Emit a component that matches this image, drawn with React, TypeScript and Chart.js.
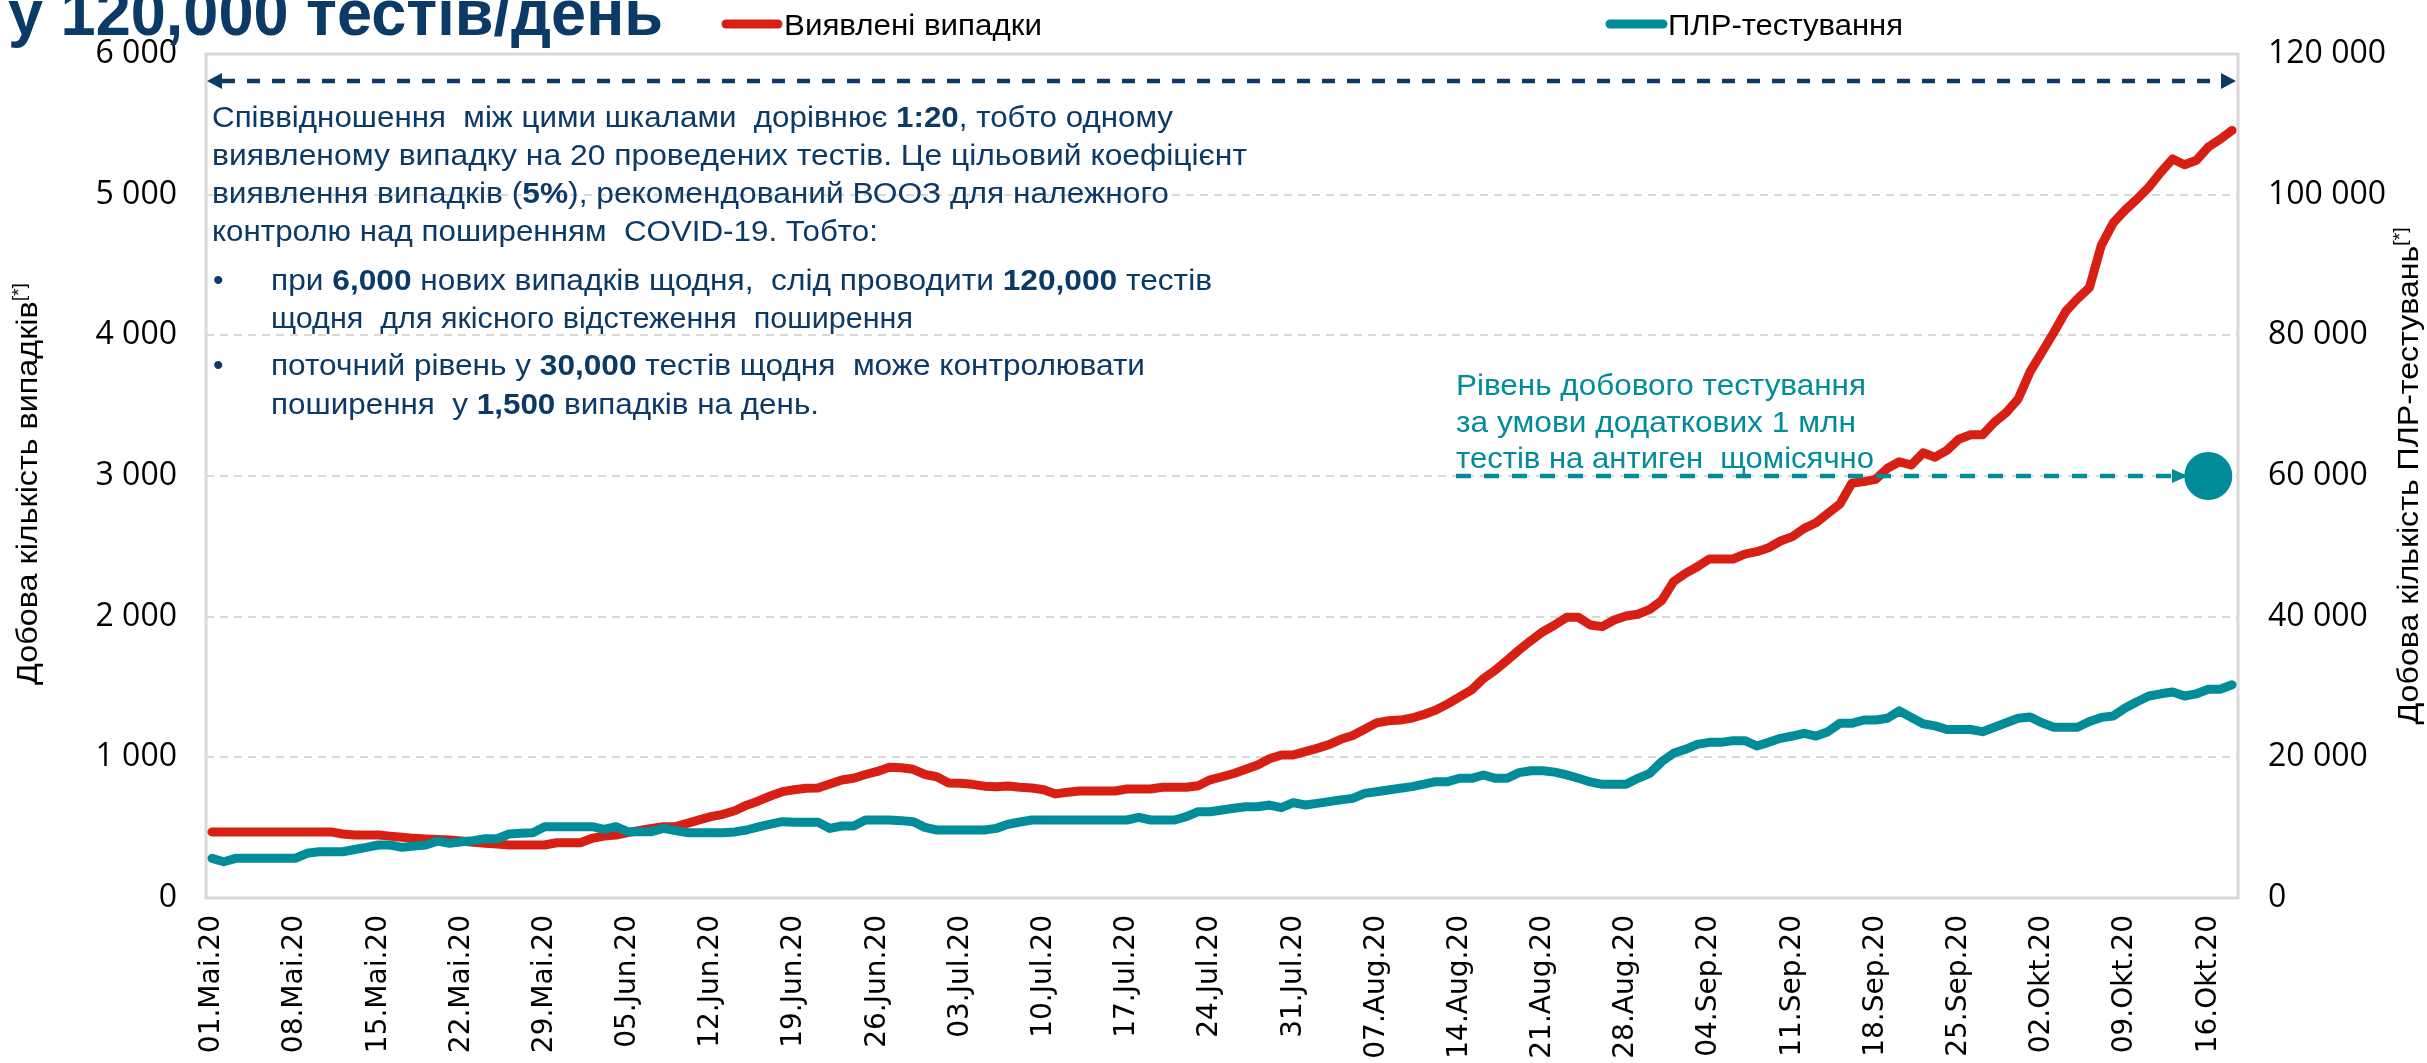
import React, { useEffect, useRef } from 'react';
import { Chart, registerables } from 'chart.js';

Chart.register(...registerables);

// ---------- data ----------
const MONTHS = ['Mai', 'Jun', 'Jul', 'Aug', 'Sep', 'Okt'];
const DAYS_SHOWN = [31, 30, 31, 31, 30, 18];
const LABEL_EVERY = 7;

// Виявлені випадки (left axis)
const CASES_MAY = [470, 470, 470, 470, 470, 470, 470, 470, 470, 470, 470, 455, 448, 448, 448, 440, 432, 424, 420, 416, 412, 405, 397, 389, 383, 377, 377, 377, 377, 393, 393];
const CASES_JUN = [393, 425, 440, 448, 465, 480, 495, 507, 507, 530, 555, 578, 595, 620, 660, 690, 725, 756, 770, 780, 782, 810, 839, 851, 878, 900, 929, 926, 915, 878];
const CASES_JUL = [862, 818, 815, 808, 795, 791, 796, 787, 782, 770, 740, 752, 761, 761, 761, 761, 775, 775, 775, 787, 787, 787, 798, 840, 862, 885, 915, 945, 990, 1017, 1017];
const CASES_AUG = [1040, 1064, 1090, 1128, 1155, 1200, 1245, 1260, 1265, 1280, 1305, 1336, 1380, 1430, 1479, 1560, 1620, 1690, 1763, 1830, 1893, 1941, 1995, 1995, 1941, 1929, 1976, 2005, 2017, 2052, 2114];
const CASES_SEP = [2249, 2308, 2355, 2410, 2410, 2410, 2445, 2462, 2490, 2538, 2569, 2628, 2668, 2735, 2801, 2948, 2960, 2976, 3055, 3101, 3078, 3165, 3134, 3182, 3261, 3293, 3293, 3382, 3451, 3547];
const CASES_OKT = [3740, 3880, 4020, 4170, 4260, 4340, 4640, 4800, 4890, 4968, 5054, 5159, 5254, 5213, 5244, 5339, 5394, 5457];

// ПЛР-тестування (right axis)
const TESTS_MAY = [5640, 5160, 5640, 5640, 5640, 5640, 5640, 5640, 6360, 6580, 6580, 6580, 6900, 7200, 7540, 7540, 7200, 7400, 7540, 8100, 7770, 8000, 8150, 8430, 8430, 9100, 9200, 9290, 10140, 10140, 10140];
const TESTS_JUN = [10140, 10140, 9770, 10140, 9430, 9430, 9430, 9900, 9600, 9290, 9290, 9290, 9290, 9400, 9670, 10100, 10500, 10850, 10760, 10760, 10760, 9900, 10240, 10240, 11090, 11090, 11090, 11000, 10850, 10050];
const TESTS_JUL = [9670, 9670, 9670, 9670, 9670, 9900, 10480, 10800, 11090, 11090, 11090, 11090, 11090, 11090, 11090, 11090, 11090, 11470, 11090, 11090, 11090, 11560, 12270, 12270, 12500, 12750, 12980, 12980, 13220, 12840, 13550];
const TESTS_AUG = [13220, 13450, 13700, 13950, 14170, 14880, 15100, 15350, 15600, 15830, 16200, 16540, 16540, 17020, 17020, 17490, 17020, 17020, 17820, 18100, 18100, 17900, 17500, 17020, 16500, 16160, 16160, 16160, 17020, 17730, 19380];
const TESTS_SEP = [20570, 21140, 21850, 22130, 22130, 22370, 22370, 21610, 22130, 22700, 23030, 23410, 23030, 23650, 24840, 24840, 25310, 25310, 25550, 26600, 25680, 24780, 24470, 23960, 23960, 23960, 23650, 24280, 24910, 25550];
const TESTS_OKT = [25740, 24910, 24280, 24280, 24280, 25100, 25680, 25870, 27010, 27900, 28720, 29030, 29290, 28720, 29030, 29670, 29670, 30310];

const CASES = [...CASES_MAY, ...CASES_JUN, ...CASES_JUL, ...CASES_AUG, ...CASES_SEP, ...CASES_OKT];
const TESTS = [...TESTS_MAY, ...TESTS_JUN, ...TESTS_JUL, ...TESTS_AUG, ...TESTS_SEP, ...TESTS_OKT];

const TARGET_TESTS = 60000;
const TARGET_LABEL = '16.Okt.20';

const LEFT_MAX = 6000;
const LEFT_STEP = 1000;
const RIGHT_MAX = 120000;
const RIGHT_STEP = 20000;

const DATES: string[] = [];
MONTHS.forEach((m, mi) => {
  for (let d = 1; d <= DAYS_SHOWN[mi]; d++) DATES.push(`${String(d).padStart(2, '0')}.${m}.20`);
});

const TARGET_DATA = DATES.map((l) => (l === TARGET_LABEL ? TARGET_TESTS : null));

// ---------- texts ----------
const TITLE_TAIL = 'у 120,000 тестів/день';
const LEGEND_CASES = 'Виявлені випадки';
const LEGEND_TESTS = 'ПЛР-тестування';
const Y_TITLE = 'Добова кількість випадків';
const Y1_TITLE = 'Добова кількість ПЛР-тестувань';
const TEAL_NOTE = ['Рівень добового тестування', 'за умови додаткових 1 млн', 'тестів на антиген  щомісячно'];

type Run = [string, boolean];
const BOX_LINES: { runs: Run[]; bullet: boolean; indent: boolean; right: number; base: number }[] = [
  { runs: [['Співвідношення  між цими шкалами  дорівнює ', false], ['1:20', true], [', тобто одному', false]], bullet: false, indent: false, right: 1173, base: 127 },
  { runs: [['виявленому випадку на 20 проведених тестів. Це цільовий коефіцієнт', false]], bullet: false, indent: false, right: 1247, base: 165 },
  { runs: [['виявлення випадків (', false], ['5%', true], ['), рекомендований ВООЗ для належного', false]], bullet: false, indent: false, right: 1169, base: 203 },
  { runs: [['контролю над поширенням  COVID-19. Тобто:', false]], bullet: false, indent: false, right: 878, base: 241 },
  { runs: [['при ', false], ['6,000', true], [' нових випадків щодня,  слід проводити ', false], ['120,000', true], [' тестів', false]], bullet: true, indent: true, right: 1212, base: 290 },
  { runs: [['щодня  для якісного відстеження  поширення', false]], bullet: false, indent: true, right: 913, base: 328 },
  { runs: [['поточний рівень у ', false], ['30,000', true], [' тестів щодня  може контролювати', false]], bullet: true, indent: true, right: 1145, base: 375 },
  { runs: [['поширення  у ', false], ['1,500', true], [' випадків на день.', false]], bullet: false, indent: true, right: 819, base: 414 },
];

// ---------- style ----------
const RED = '#D71F14';
const TEAL = '#008C99';
const NAVY = '#0B3A66';
const GRID = '#D9D9D9';
const SANS = '"Liberation Sans", Arial, sans-serif';
const TICK_FONT = '"Open Sans", "DejaVu Sans", sans-serif';
const XTICK_FONT = '"DejaVu Sans", sans-serif';

const fmt = (v: number) => String(v).replace(/\B(?=(\d{3})+(?!\d))/g, ' ');

function drawRuns(ctx: CanvasRenderingContext2D, runs: Run[], x: number, y: number, size: number, color: string, right?: number) {
  const fonts = runs.map(([, b]) => `${b ? 'bold ' : ''}${size}px ${SANS}`);
  let w = 0;
  const ws = runs.map(([t], i) => {
    ctx.font = fonts[i];
    const m = ctx.measureText(t).width;
    w += m;
    return m;
  });
  let sx = 1;
  if (right) sx = Math.min(1.15, Math.max(0.85, (right - x) / w));
  ctx.save();
  ctx.translate(x, y);
  ctx.scale(sx, 1);
  ctx.fillStyle = color;
  ctx.textBaseline = 'alphabetic';
  ctx.textAlign = 'left';
  let cx = 0;
  runs.forEach(([t], i) => {
    ctx.font = fonts[i];
    ctx.fillText(t, cx, 0);
    cx += ws[i];
  });
  ctx.restore();
}

function dashedArrow(ctx: CanvasRenderingContext2D, x0: number, x1: number, y: number, color: string, lw: number, dash: number[], left: boolean, right: boolean, hl: number, hw: number) {
  ctx.save();
  ctx.strokeStyle = color;
  ctx.fillStyle = color;
  ctx.lineWidth = lw;
  ctx.setLineDash(dash);
  ctx.beginPath();
  ctx.moveTo(left ? x0 + hl : x0, y);
  ctx.lineTo(right ? x1 - hl : x1, y);
  ctx.stroke();
  ctx.setLineDash([]);
  if (left) {
    ctx.beginPath();
    ctx.moveTo(x0, y);
    ctx.lineTo(x0 + hl, y - hw);
    ctx.lineTo(x0 + hl, y + hw);
    ctx.closePath();
    ctx.fill();
  }
  if (right) {
    ctx.beginPath();
    ctx.moveTo(x1, y);
    ctx.lineTo(x1 - hl, y - hw);
    ctx.lineTo(x1 - hl, y + hw);
    ctx.closePath();
    ctx.fill();
  }
  ctx.restore();
}

function drawVTitle(ctx: CanvasRenderingContext2D, text: string, x: number, cy: number, size: number, length: number) {
  const main = `${size}px ${SANS}`;
  const supF = `${Math.round(size * 0.6)}px ${SANS}`;
  ctx.save();
  ctx.font = main;
  const w1 = ctx.measureText(text).width;
  ctx.font = supF;
  const w2 = ctx.measureText('[*]').width;
  const sx = Math.min(1.15, Math.max(0.85, length / (w1 + w2)));
  ctx.translate(x, cy);
  ctx.rotate(-Math.PI / 2);
  ctx.scale(sx, 1);
  const start = -(w1 + w2) / 2;
  ctx.fillStyle = '#000';
  ctx.textBaseline = 'alphabetic';
  ctx.textAlign = 'left';
  ctx.font = main;
  ctx.fillText(text, start, 0);
  ctx.font = supF;
  ctx.fillText('[*]', start + w1, -size * 0.4);
  ctx.restore();
}

const decorPlugin = {
  id: 'decor',
  beforeDatasetsDraw(chart: any) {
    const { ctx, chartArea: a } = chart;
    ctx.save();
    ctx.strokeStyle = GRID;
    ctx.lineWidth = 3;
    ctx.strokeRect(a.left, a.top, a.right - a.left, a.bottom - a.top);
    ctx.restore();
  },
  afterDraw(chart: any) {
    const { ctx, chartArea: a } = chart;
    const y1 = chart.scales.y1;

    // title (bottom line, cut by the top edge)
    drawRuns(ctx, [[TITLE_TAIL, true]], 8, 35, 64, NAVY, 663);

    // legend
    ctx.save();
    ctx.lineCap = 'round';
    ctx.lineWidth = 9;
    ctx.strokeStyle = RED;
    ctx.beginPath();
    ctx.moveTo(726, 24);
    ctx.lineTo(778, 24);
    ctx.stroke();
    ctx.strokeStyle = TEAL;
    ctx.beginPath();
    ctx.moveTo(1610, 24);
    ctx.lineTo(1663, 24);
    ctx.stroke();
    ctx.restore();
    drawRuns(ctx, [[LEGEND_CASES, false]], 784, 35, 29, '#000', 1042);
    drawRuns(ctx, [[LEGEND_TESTS, false]], 1668, 35, 29, '#000', 1903);

    // axis titles
    const cy = (a.top + a.bottom) / 2;
    drawVTitle(ctx, Y_TITLE, 37, cy + 8, 30, 402);
    drawVTitle(ctx, Y1_TITLE, 2418, cy, 30, 497);

    // navy double arrow
    dashedArrow(ctx, a.left + 1, a.right - 2, 81, NAVY, 4.5, [13, 12], true, true, 15, 8);

    // text box
    BOX_LINES.forEach((ln) => {
      const x = ln.indent ? 271 : 212;
      if (ln.bullet) {
        ctx.save();
        ctx.fillStyle = NAVY;
        ctx.font = `30px ${SANS}`;
        ctx.textBaseline = 'alphabetic';
        ctx.fillText('•', 213, ln.base);
        ctx.restore();
      }
      drawRuns(ctx, ln.runs, x, ln.base, 30, NAVY, ln.right);
    });

    // teal note + arrow to target level
    const ty = y1.getPixelForValue(TARGET_TESTS);
    drawRuns(ctx, [[TEAL_NOTE[0], false]], 1456, 395, 30, TEAL, 1866);
    drawRuns(ctx, [[TEAL_NOTE[1], false]], 1456, 432, 30, TEAL, 1856);
    drawRuns(ctx, [[TEAL_NOTE[2], false]], 1456, 468, 30, TEAL, 1874);
    dashedArrow(ctx, 1456, 2188, ty, TEAL, 4.5, [15, 13], false, true, 16, 7);
  },
};

export default function App() {
  const ref = useRef<HTMLCanvasElement>(null);
  useEffect(() => {
    document.body.style.margin = '0';
    document.body.style.overflow = 'hidden';
    const chart = new Chart(ref.current as HTMLCanvasElement, {
      type: 'line',
      data: {
        labels: DATES,
        datasets: [
          {
            label: LEGEND_CASES,
            data: CASES,
            yAxisID: 'y',
            borderColor: RED,
            backgroundColor: RED,
            borderWidth: 9,
            pointRadius: 0,
            borderCapStyle: 'round',
            borderJoinStyle: 'round',
            tension: 0,
            order: 2,
          },
          {
            label: LEGEND_TESTS,
            data: TESTS,
            yAxisID: 'y1',
            borderColor: TEAL,
            backgroundColor: TEAL,
            borderWidth: 9,
            pointRadius: 0,
            borderCapStyle: 'round',
            borderJoinStyle: 'round',
            tension: 0,
            order: 1,
          },
          {
            label: 'target',
            data: TARGET_DATA,
            yAxisID: 'y1',
            showLine: false,
            borderWidth: 0,
            pointRadius: 24,
            pointBackgroundColor: TEAL,
            pointBorderWidth: 0,
            pointBorderColor: TEAL,
            order: 0,
          },
        ],
      },
      options: {
        animation: false,
        responsive: false,
        devicePixelRatio: 1,
        layout: { padding: { top: 54, left: 0, right: 0, bottom: 0 } },
        plugins: { legend: { display: false }, tooltip: { enabled: false } },
        scales: {
          x: {
            type: 'category',
            offset: true,
            grid: { display: false, drawTicks: false },
            border: { display: false },
            ticks: {
              autoSkip: false,
              minRotation: 90,
              maxRotation: 90,
              padding: 17,
              color: '#000',
              font: { family: XTICK_FONT, size: 28 },
              callback: (_v: any, i: number) => (i % LABEL_EVERY === 0 ? DATES[i] : ''),
            },
            afterFit: (s: any) => {
              s.height = 165;
            },
          },
          y: {
            position: 'left',
            min: 0,
            max: LEFT_MAX,
            grid: { color: GRID, lineWidth: 2, drawTicks: false },
            border: { display: false, dash: [8, 6] },
            ticks: {
              stepSize: LEFT_STEP,
              padding: 29,
              color: '#000',
              font: { family: TICK_FONT, size: 32 },
              callback: (v: any) => fmt(Number(v)),
            },
            afterFit: (s: any) => {
              s.width = 206;
            },
          },
          y1: {
            position: 'right',
            min: 0,
            max: RIGHT_MAX,
            grid: { display: false, drawTicks: false },
            border: { display: false },
            ticks: {
              stepSize: RIGHT_STEP,
              padding: 30,
              color: '#000',
              font: { family: TICK_FONT, size: 32 },
              callback: (v: any) => fmt(Number(v)),
            },
            afterFit: (s: any) => {
              s.width = 189;
            },
          },
        },
      },
      plugins: [decorPlugin],
    } as any);
    return () => chart.destroy();
  }, []);
  return <canvas ref={ref} width={2427} height={1063} style={{ display: 'block', width: '2427px', height: '1063px' }} />;
}
